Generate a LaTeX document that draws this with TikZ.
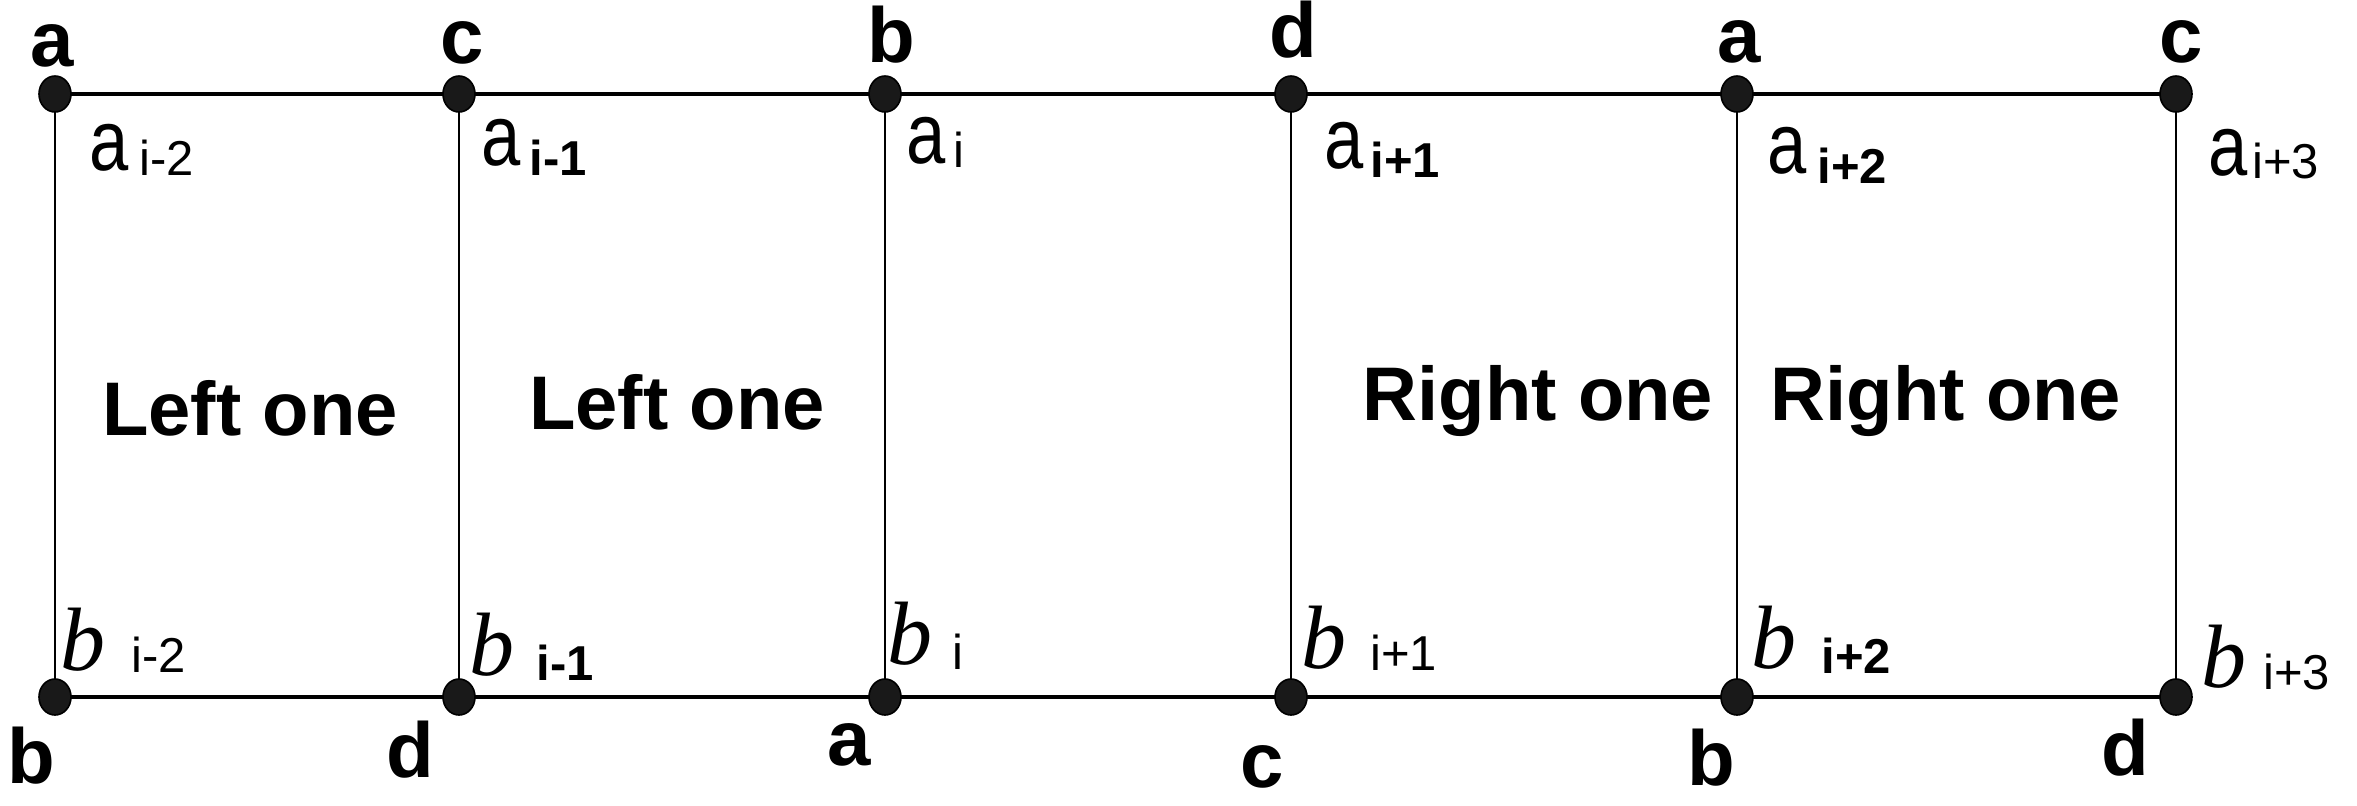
\documentclass[tikz,border=0pt]{standalone}
\usepackage{graphicx}
\usepackage{fontspec}
\setmainfont{Liberation Sans}
\newfontfamily\bserif{Liberation Serif}
\usetikzlibrary{shapes.geometric,backgrounds}
\newcommand{\Aletter}{\scalebox{0.82}[1]{\fontsize{43}{48}\selectfont a}}
\newcommand{\Bletter}{{\bserif\itshape\fontsize{45}{48}\selectfont b}}
\tikzset{
  vdot/.style={ellipse, fill=black!90, draw=black, line width=0.8pt,
    minimum width=16pt, minimum height=18pt, inner sep=0pt},
  hline/.style={line width=2pt},
  vline/.style={line width=1.1pt},
  vlab/.style={font=\fontsize{39}{44}\selectfont\bfseries, inner sep=0pt, anchor=base},
  onelab/.style={font=\fontsize{38}{44}\selectfont\bfseries, inner sep=0pt, anchor=base},
  letlab/.style={inner sep=0pt, anchor=base west},
  sublab/.style={inner sep=0pt, anchor=base west, font=\fontsize{24.5}{28}\selectfont},
  subbold/.style={sublab, font=\fontsize{24.5}{28}\selectfont\bfseries},
}
\begin{document}
\begin{tikzpicture}[x=0.5pt,y=-0.5pt]
\useasboundingbox (0,0) rectangle (2357,805);
% dots
\node[vdot] (t1) at (55,94) {};
\node[vdot] (t2) at (459,94) {};
\node[vdot] (t3) at (885,94) {};
\node[vdot] (t4) at (1291,94) {};
\node[vdot] (t5) at (1737,94) {};
\node[vdot] (t6) at (2176,94) {};
\node[vdot] (b1) at (55,697) {};
\node[vdot] (b2) at (459,697) {};
\node[vdot] (b3) at (885,697) {};
\node[vdot] (b4) at (1291,697) {};
\node[vdot] (b5) at (1737,697) {};
\node[vdot] (b6) at (2176,697) {};
\begin{scope}[on background layer]
\draw[hline] (t1.center) -- (t6.center);
\draw[hline] (b1.center) -- (b6.center);
\foreach \i in {1,...,6} \draw[vline] (t\i.center) -- (b\i.center);
\end{scope}
% vertex labels top
\node[vlab] (vt1) at (52,66) {a};
\node[vlab] (vt2) at (462,63) {c};
\node[vlab] (vt3) at (891,62) {b};
\node[vlab] (vt4) at (1293,57) {d};
\node[vlab] (vt5) at (1739,62) {a};
\node[vlab] (vt6) at (2181,62) {c};
% vertex labels bottom
\node[vlab] (vb1) at (31,783) {b};
\node[vlab] (vb2) at (410,777) {d};
\node[vlab] (vb3) at (849,765) {a};
\node[vlab] (vb4) at (1262,787) {c};
\node[vlab] (vb5) at (1711,785) {b};
\node[vlab] (vb6) at (2125,775) {d};
% a labels
\node[letlab] (la1) at (89,170) {\Aletter};
\node[sublab] (sa1) at (139,175) {i-2};
\node[letlab] (la2) at (481,165) {\Aletter};
\node[subbold] (sa2) at (529,175) {i-1};
\node[letlab] (la3) at (906,163) {\Aletter};
\node[sublab] (sa3) at (953,167) {i};
\node[letlab] (la4) at (1324,168) {\Aletter};
\node[subbold] (sa4) at (1370,177) {i+1};
\node[letlab] (la5) at (1767,173) {\Aletter};
\node[subbold] (sa5) at (1817,183) {i+2};
\node[letlab] (la6) at (2208,175) {\Aletter};
\node[sublab] (sa6) at (2252,178) {i+3};
% b labels
\node[letlab] (lb1) at (60,670) {\Bletter};
\node[sublab] (sb1) at (131,672) {i-2};
\node[letlab] (lb2) at (469,675) {\Bletter};
\node[subbold] (sb2) at (536,680) {i-1};
\node[letlab] (lb3) at (887,664) {\Bletter};
\node[sublab] (sb3) at (952,669) {i};
\node[letlab] (lb4) at (1301,668) {\Bletter};
\node[sublab] (sb4) at (1370,670) {i+1};
\node[letlab] (lb5) at (1751,668) {\Bletter};
\node[subbold] (sb5) at (1821,673) {i+2};
\node[letlab] (lb6) at (2201,687) {\Bletter};
\node[sublab] (sb6) at (2263,689) {i+3};
% region labels
\node[onelab] (l1) at (250,435) {Left one};
\node[onelab] (l2) at (677,429) {Left one};
\node[onelab] (r1) at (1538,420) {Right one};
\node[onelab] (r2) at (1946,420) {Right one};
\end{tikzpicture}
\end{document}
